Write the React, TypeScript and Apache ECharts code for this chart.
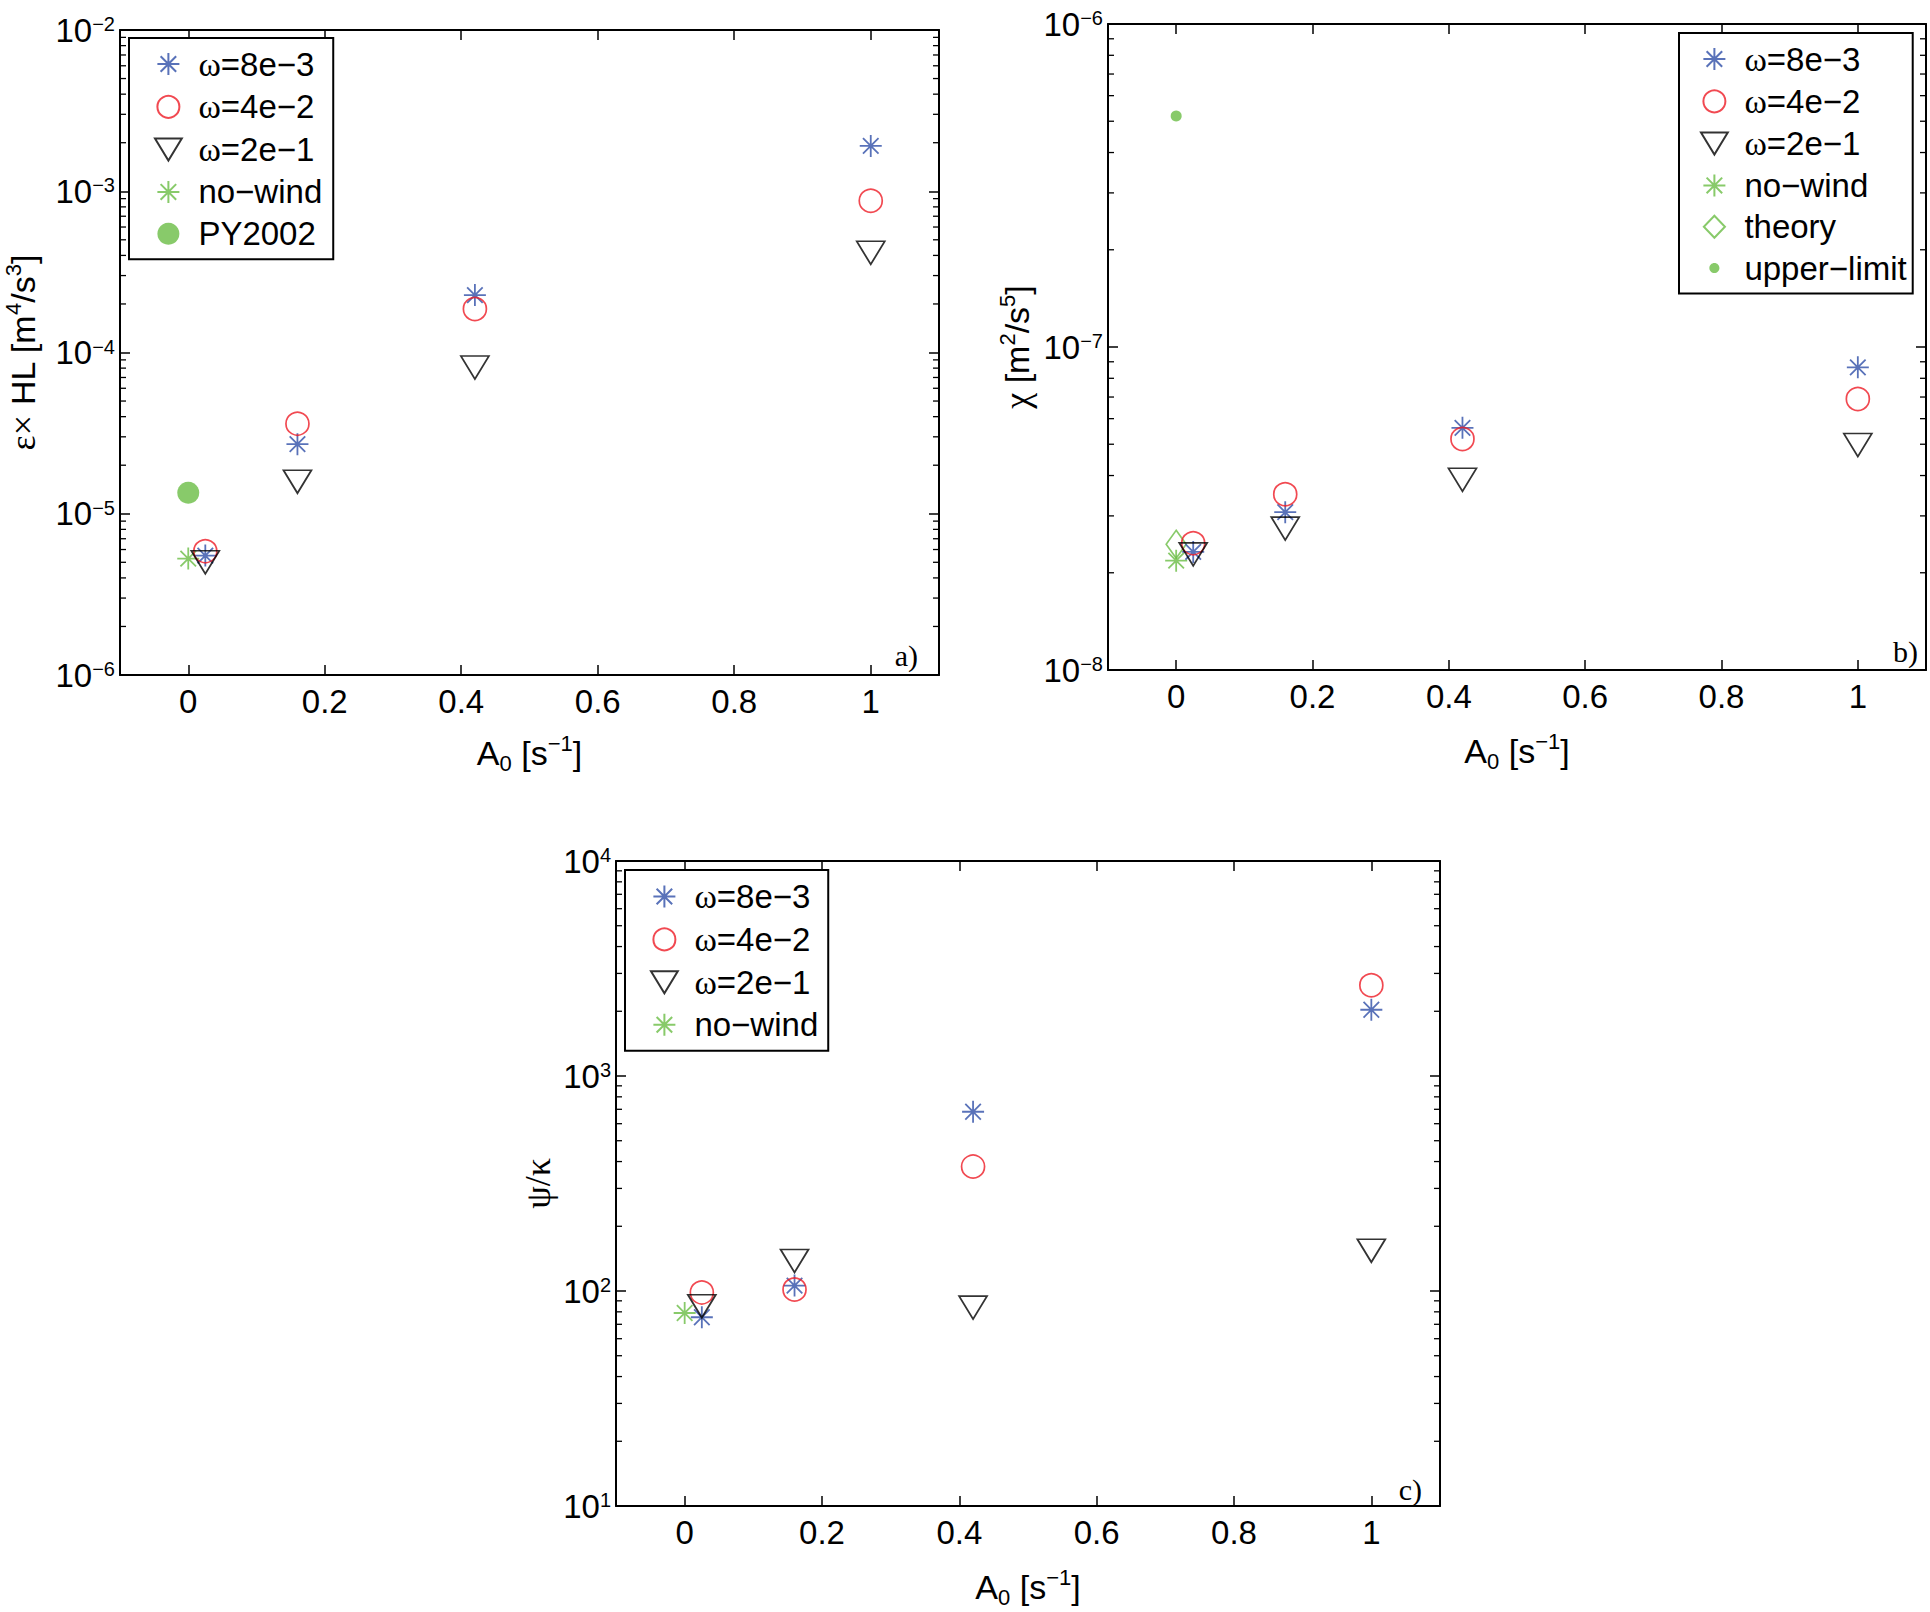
import React, { useEffect, useRef } from 'react';
import * as echarts from 'echarts';

// ---------- data ----------
const A0_WIND = [0.025, 0.16, 0.42, 1];
const A0_CALM = [0];

// panel a) epsilon x HL [m^4/s^3]
const EPS_W8 = [5.5e-6, 2.7e-5, 2.27e-4, 1.91e-3];
const EPS_W4 = [5.86e-6, 3.62e-5, 1.86e-4, 8.73e-4];
const EPS_W2 = [5.0e-6, 1.58e-5, 8.07e-5, 4.15e-4];
const EPS_NOWIND = [5.27e-6];
const EPS_PY2002 = [1.35e-5];

// panel b) chi [m^2/s^5]
const CHI_W8 = [2.32e-8, 3.08e-8, 5.62e-8, 8.65e-8];
const CHI_W4 = [2.47e-8, 3.5e-8, 5.19e-8, 6.9e-8];
const CHI_W2 = [2.28e-8, 2.74e-8, 3.88e-8, 4.97e-8];
const CHI_NOWIND = [2.18e-8];
const CHI_THEORY = [2.45e-8];
const CHI_UPPER = [5.19e-7];

// panel c) psi/kappa
const PSI_W8 = [75.5, 106, 682, 2033];
const PSI_W4 = [98.5, 101.6, 379, 2641];
const PSI_W2 = [85, 138, 83.7, 154];
const PSI_NOWIND = [79];

// ticks
const X_TICKS = [0, 0.2, 0.4, 0.6, 0.8, 1];
const MINOR_MANTISSAS = [2, 3, 4, 5, 6, 7, 8, 9];

const NAMES = {
  w8: 'ω=8e−3',
  w4: 'ω=4e−2',
  w2: 'ω=2e−1',
  nw: 'no−wind',
  py: 'PY2002',
  th: 'theory',
  ul: 'upper−limit',
};

// ---------- styles ----------
const BLUE = '#2f4fa8';
const RED = '#ee1c25';
const GREEN = '#6abd45';
const BLACK = '#000000';
const SANS = '"Liberation Sans", Arial, sans-serif';
const SERIF = '"Liberation Serif", "Times New Roman", serif';

const STAR = 'path://M10,0L10,20M0,10L20,10M2.93,2.93L17.07,17.07M17.07,2.93L2.93,17.07';
const TRI_DOWN = 'path://M0,0L28,0L14,23Z';
const DIAMOND = 'path://M10,0L20,14L10,28L0,14Z';
const LEGEND_DIAMOND = 'path://M12,0L24,12.5L12,25L0,12.5Z';
const LEGEND_DOT =
  'path://M0,0L0.01,0.01M24,24L23.99,23.99M12,6.5C15.04,6.5 17.5,8.96 17.5,12C17.5,15.04 15.04,17.5 12,17.5C8.96,17.5 6.5,15.04 6.5,12C6.5,8.96 8.96,6.5 12,6.5Z';
const CLEAR = 'rgba(0,0,0,0)';

const STYLE: Record<string, any> = {
  w8: { symbol: STAR, symbolSize: 22, itemStyle: { color: CLEAR, borderColor: BLUE, borderWidth: 1.8 } },
  w4: { symbol: 'circle', symbolSize: 23, itemStyle: { color: CLEAR, borderColor: RED, borderWidth: 1.7 } },
  w2: { symbol: TRI_DOWN, symbolSize: [28, 23], itemStyle: { color: CLEAR, borderColor: BLACK, borderWidth: 1.7 } },
  nw: { symbol: STAR, symbolSize: 22, itemStyle: { color: CLEAR, borderColor: GREEN, borderWidth: 1.8 } },
  py: { symbol: 'circle', symbolSize: 22, itemStyle: { color: GREEN, borderWidth: 0 } },
  th: { symbol: DIAMOND, symbolSize: [20, 28], itemStyle: { color: CLEAR, borderColor: GREEN, borderWidth: 1.7 } },
  ul: { symbol: 'circle', symbolSize: 11, itemStyle: { color: GREEN, borderWidth: 0 } },
};

const GRIDS = [
  { left: 120, top: 30, width: 819, height: 645 },
  { left: 1108, top: 24, width: 818, height: 646 },
  { left: 616, top: 861, width: 824, height: 645 },
];

const TICK_RICH = {
  b: { fontSize: 33, lineHeight: 32, fontFamily: SANS, color: BLACK },
  s: { fontSize: 20, lineHeight: 6, verticalAlign: 'top', fontFamily: SANS, color: BLACK },
};

const NAME_RICH = {
  t: { fontSize: 34, lineHeight: 42, fontFamily: SANS, color: BLACK },
  g: { fontSize: 36, lineHeight: 42, fontFamily: SERIF, color: BLACK },
  sup: { fontSize: 22, lineHeight: 24, verticalAlign: 'top', fontFamily: SANS, color: BLACK },
  sub: { fontSize: 22, lineHeight: 2, verticalAlign: 'bottom', fontFamily: SANS, color: BLACK },
};

const LEGEND_RICH = {
  g: { fontSize: 34, lineHeight: 32, fontFamily: SERIF, color: BLACK },
  t: { fontSize: 33, lineHeight: 32, fontFamily: SANS, color: BLACK },
};

const pts = (xs: number[], ys: number[]) => ys.map((y, i) => [xs[i], y]);

function scatter(key: string, grid: number, xs: number[], ys: number[]) {
  return {
    type: 'scatter',
    name: (NAMES as any)[key],
    xAxisIndex: grid * 2,
    yAxisIndex: grid * 2,
    data: pts(xs, ys),
    z: 3,
    ...STYLE[key],
  };
}

function minorTicks(grid: number, minExp: number, maxExp: number) {
  const data: number[][] = [];
  for (let k = minExp; k < maxExp; k++) {
    for (const m of MINOR_MANTISSAS) data.push([0, m * Math.pow(10, k)]);
  }
  return {
    type: 'custom',
    xAxisIndex: grid * 2,
    yAxisIndex: grid * 2,
    silent: true,
    z: 1,
    data,
    renderItem: (params: any, api: any) => {
      const cs = params.coordSys;
      const y = api.coord([0, api.value(1)])[1];
      const st = { stroke: BLACK, lineWidth: 1.3 };
      return {
        type: 'group',
        children: [
          { type: 'line', shape: { x1: cs.x, y1: y, x2: cs.x + 6, y2: y }, style: st },
          { type: 'line', shape: { x1: cs.x + cs.width - 6, y1: y, x2: cs.x + cs.width, y2: y }, style: st },
        ],
      };
    },
  };
}

const axisLine = { show: true, onZero: false, lineStyle: { color: BLACK, width: 2 } };
const axisTick = { show: true, inside: true, length: 10, lineStyle: { color: BLACK, width: 1.5 } };

function xAxes(grid: number, nameGap: number) {
  const base = { type: 'value', gridIndex: grid, min: -0.1, max: 1.1, splitLine: { show: false }, axisLine };
  return [
    {
      ...base,
      position: 'bottom',
      name: '{t|A}{sub|0}{t| [s}{sup|−1}{t|]}',
      nameLocation: 'middle',
      nameGap,
      nameTextStyle: { rich: NAME_RICH },
      axisTick: { ...axisTick, customValues: X_TICKS },
      axisLabel: {
        customValues: X_TICKS,
        formatter: (v: number) => String(v),
        margin: 10,
        fontSize: 33,
        fontFamily: SANS,
        color: BLACK,
      },
    },
    {
      ...base,
      position: 'top',
      axisTick: { ...axisTick, customValues: X_TICKS },
      axisLabel: { show: false, customValues: X_TICKS },
    },
  ];
}

function yAxes(grid: number, min: number, max: number, name: string, nameGap: number) {
  const base = { type: 'log', logBase: 10, gridIndex: grid, min, max, splitLine: { show: false }, axisLine, axisTick };
  return [
    {
      ...base,
      position: 'left',
      name,
      nameLocation: 'middle',
      nameGap,
      nameTextStyle: { rich: NAME_RICH },
      axisLabel: {
        margin: 5,
        formatter: (v: number) => {
          const e = Math.round(Math.log10(v));
          return `{b|10}{s|${e < 0 ? '−' + -e : e}}`;
        },
        rich: TICK_RICH,
      },
    },
    { ...base, position: 'right', axisLabel: { show: false } },
  ];
}

function legend(left: number, top: number, names: any[], itemGap: number, padding: number[]) {
  return {
    orient: 'vertical',
    left,
    top,
    padding,
    itemGap,
    itemWidth: 50,
    itemHeight: 22,
    borderColor: BLACK,
    borderWidth: 2,
    backgroundColor: '#ffffff',
    selectedMode: false,
    data: names,
    formatter: (n: string) => (n.startsWith('ω') ? `{g|ω}{t|${n.slice(1)}}` : `{t|${n}}`),
    textStyle: { rich: LEGEND_RICH },
  };
}

function panelLabel(text: string, x: number, y: number) {
  return {
    type: 'text',
    x,
    y,
    z: 10,
    style: {
      text,
      fontSize: 30,
      fontFamily: SERIF,
      fill: BLACK,
      align: 'right',
      verticalAlign: 'middle',
    },
  };
}

export default function App() {
  const ref = useRef<HTMLDivElement>(null);

  useEffect(() => {
    document.body.style.margin = '0';
    document.body.style.overflow = 'hidden';
    if (!ref.current) return;
    const chart = echarts.init(ref.current, undefined, { renderer: 'svg' });

    const option: any = {
      animation: false,
      backgroundColor: '#ffffff',
      textStyle: { fontFamily: SANS },
      grid: GRIDS,
      xAxis: [...xAxes(0, 57), ...xAxes(1, 60), ...xAxes(2, 60)],
      yAxis: [
        ...yAxes(0, 1e-6, 1e-2, '{g|ε×}{t| HL [m}{sup|4}{t|/s}{sup|3}{t|]}', 76),
        ...yAxes(1, 1e-8, 1e-6, '{g|χ}{t| [m}{sup|2}{t|/s}{sup|5}{t|]}', 70),
        ...yAxes(2, 10, 1e4, '{g|ψ/κ}', 57),
      ],
      legend: [
        legend(129, 38, [NAMES.w8, NAMES.w4, NAMES.w2, NAMES.nw, NAMES.py], 8.8, [9, 11, 9, 25]),
        legend(
          1679,
          33,
          [
            NAMES.w8,
            NAMES.w4,
            NAMES.w2,
            NAMES.nw,
            { name: NAMES.th, icon: LEGEND_DIAMOND },
            { name: NAMES.ul, icon: LEGEND_DOT },
          ],
          8.3,
          [9, 6, 9, 21],
        ),
        legend(625, 870, [NAMES.w8, NAMES.w4, NAMES.w2, NAMES.nw], 8.9, [9.5, 10, 9.5, 25]),
      ],
      graphic: [
        panelLabel('a)', 918, 655),
        panelLabel('b)', 1918, 651),
        panelLabel('c)', 1422, 1489),
      ],
      series: [
        minorTicks(0, -6, -2),
        minorTicks(1, -8, -6),
        minorTicks(2, 1, 4),
        scatter('nw', 0, A0_CALM, EPS_NOWIND),
        scatter('py', 0, A0_CALM, EPS_PY2002),
        scatter('w8', 0, A0_WIND, EPS_W8),
        scatter('w4', 0, A0_WIND, EPS_W4),
        scatter('w2', 0, A0_WIND, EPS_W2),
        scatter('nw', 1, A0_CALM, CHI_NOWIND),
        scatter('th', 1, A0_CALM, CHI_THEORY),
        scatter('ul', 1, A0_CALM, CHI_UPPER),
        scatter('w8', 1, A0_WIND, CHI_W8),
        scatter('w4', 1, A0_WIND, CHI_W4),
        scatter('w2', 1, A0_WIND, CHI_W2),
        scatter('nw', 2, A0_CALM, PSI_NOWIND),
        scatter('w8', 2, A0_WIND, PSI_W8),
        scatter('w4', 2, A0_WIND, PSI_W4),
        scatter('w2', 2, A0_WIND, PSI_W2),
      ],
    };
    chart.setOption(option);
    return () => chart.dispose();
  }, []);

  return <div ref={ref} style={{ width: 1930, height: 1612 }} />;
}
